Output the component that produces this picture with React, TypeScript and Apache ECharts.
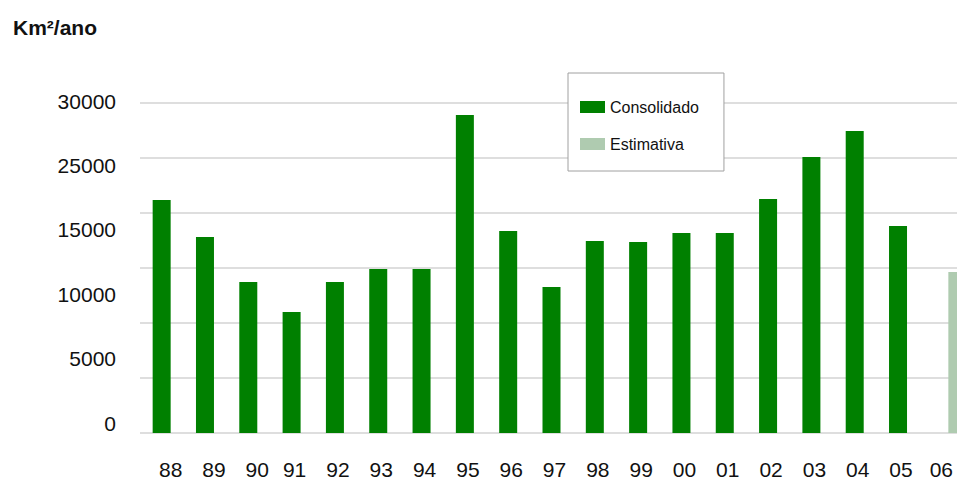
import React, { useEffect, useRef } from "react";
import * as echarts from "echarts";

const years = ["88", "89", "90", "91", "92", "93", "94", "95", "96", "97", "98", "99", "00", "01", "02", "03", "04", "05", "06"];
const consolidado: (number | string)[] = [21180, 17820, 13730, 11000, 13730, 14900, 14900, 28910, 18360, 13270, 17450, 17360, 18180, 18180, 21270, 25090, 27450, 18820, "-"];
const estimativa: (number | string)[] = ["-", "-", "-", "-", "-", "-", "-", "-", "-", "-", "-", "-", "-", "-", "-", "-", "-", "-", 14640];
const yTickLabels = ["0", "5000", "10000", "15000", "25000", "30000"];

const FONT = "'Liberation Sans', Arial, Helvetica, sans-serif";

export default function App() {
  const ref = useRef<HTMLDivElement>(null);
  useEffect(() => {
    if (!ref.current) return;
    const chart = echarts.init(ref.current, null, { renderer: "svg" });
    chart.setOption({
      animation: false,
      backgroundColor: "#ffffff",
      title: {
        text: "Km²/ano",
        left: 8,
        top: 12,
        textStyle: { fontFamily: FONT, fontSize: 21, fontWeight: "bold", color: "#111111" },
      },
      legend: {
        orient: "vertical",
        left: 568,
        top: 73,
        padding: [26, 25, 19, 12],
        itemGap: 21,
        itemWidth: 25,
        itemHeight: 12,
        icon: "rect",
        backgroundColor: "#ffffff",
        borderColor: "#a0a0a0",
        borderWidth: 1,
        textStyle: { fontFamily: FONT, fontSize: 16, color: "#111111" },
        data: ["Consolidado", "Estimativa"],
      },
      grid: [
        { left: 140, width: 823, top: 103, bottom: 48, containLabel: false, outerBoundsMode: "none" },
        { left: 156, width: 823, top: 103, bottom: 48, containLabel: false, outerBoundsMode: "none" },
        { left: 140, width: 800, top: 101, bottom: 58, containLabel: false, outerBoundsMode: "none" },
      ],
      xAxis: [
        {
          type: "category",
          gridIndex: 0,
          data: years,
          axisLine: { show: false },
          axisTick: { show: false },
          axisLabel: {
            interval: 0,
            margin: 26,
            fontFamily: FONT,
            fontSize: 21,
            color: "#111111",
            formatter: (v: string, i: number) => (i < 3 ? `{a|${v}}` : i < 18 ? `{b|${v}}` : `{c|${v}}`),
            rich: {
              a: { fontFamily: FONT, fontSize: 21, color: "#111111", padding: [0, 0, 0, 18] },
              b: { fontFamily: FONT, fontSize: 21, color: "#111111", padding: [0, 0, 0, 6] },
              c: { fontFamily: FONT, fontSize: 21, color: "#111111" },
            },
          },
        },
        { type: "category", gridIndex: 1, data: years, show: false },
        { type: "value", gridIndex: 2, show: false },
      ],
      yAxis: [
        {
          type: "value",
          gridIndex: 0,
          min: 0,
          max: 30000,
          interval: 5000,
          axisLabel: { show: false },
          axisLine: { show: false },
          axisTick: { show: false },
          splitLine: { lineStyle: { color: "#dedede", width: 2 } },
        },
        { type: "value", gridIndex: 1, min: 0, max: 30000, interval: 5000, show: false },
        {
          type: "category",
          gridIndex: 2,
          data: yTickLabels,
          boundaryGap: false,
          axisLine: { show: false },
          axisTick: { show: false },
          splitLine: { show: false },
          axisLabel: { margin: 24, fontFamily: FONT, fontSize: 21, color: "#111111", interval: 0 },
        },
      ],
      series: [
        {
          name: "Consolidado",
          type: "bar",
          xAxisIndex: 0,
          yAxisIndex: 0,
          barWidth: 18,
          data: consolidado,
          itemStyle: { color: "#008000" },
        },
        {
          name: "Estimativa",
          type: "bar",
          xAxisIndex: 1,
          yAxisIndex: 1,
          barWidth: 18,
          data: estimativa,
          itemStyle: { color: "#afcbb0" },
        },
      ],
    });
    return () => chart.dispose();
  }, []);
  return (
    <div
      ref={ref}
      style={{ position: "absolute", left: 0, top: 0, width: 957, height: 481 }}
    />
  );
}
